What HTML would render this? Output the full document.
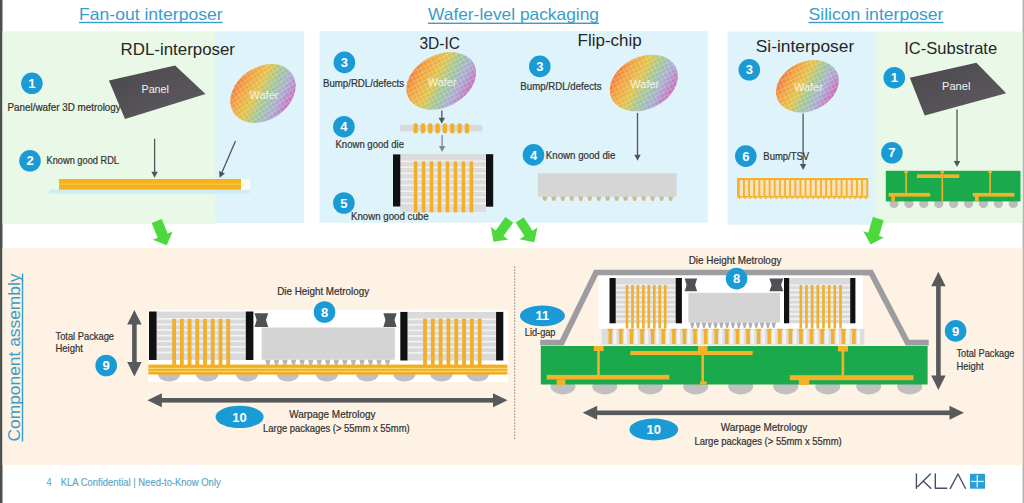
<!DOCTYPE html><html><head><meta charset="utf-8"><style>html,body{margin:0;padding:0;background:#fff;overflow:hidden}svg{display:block}text{font-family:"Liberation Sans",sans-serif}</style></head><body>
<svg width="1024" height="503" viewBox="0 0 1024 503">
<defs>
<linearGradient id="wgrad" x1="0" y1="0" x2="1" y2="0"><stop offset="0" stop-color="#ec6a3c"/><stop offset="0.22" stop-color="#f2a43a"/><stop offset="0.42" stop-color="#d8c25a"/><stop offset="0.6" stop-color="#9cc0a0"/><stop offset="0.78" stop-color="#b49ac8"/><stop offset="1" stop-color="#d05aa8"/></linearGradient>
<pattern id="wgrid" width="4.2" height="4.2" patternUnits="userSpaceOnUse"><path d="M0 0H4.2M0 0V4.2" stroke="#ffffff" stroke-width="1.1"/></pattern>
<linearGradient id="pgrad" x1="0" y1="0" x2="1" y2="1"><stop offset="0" stop-color="#4a484c"/><stop offset="1" stop-color="#5e5c60"/></linearGradient>
</defs>
<rect x="0.00" y="0.00" width="1024.00" height="503.00" fill="#ffffff"/>
<rect x="0.00" y="0.00" width="2.50" height="503.00" fill="#4d524d"/>
<rect x="1022.50" y="0.00" width="1.50" height="503.00" fill="#b4b4b4"/>
<rect x="2.50" y="31.30" width="212.50" height="192.90" fill="#e9f8e7"/>
<rect x="215.00" y="31.30" width="89.20" height="191.70" fill="#dff3fb"/>
<rect x="319.50" y="31.20" width="388.60" height="191.50" fill="#dff3fb"/>
<rect x="727.60" y="31.60" width="148.40" height="193.10" fill="#dff3fb"/>
<rect x="876.00" y="31.50" width="146.50" height="191.50" fill="#e9f8e7"/>
<rect x="2.50" y="248.00" width="1020.00" height="217.00" fill="#fdf2e3"/>
<text x="79.0" y="19.6" font-size="16.5" fill="#3a9cc9" text-anchor="start" font-weight="normal" textLength="143.6" lengthAdjust="spacingAndGlyphs">Fan-out interposer</text>
<rect x="79.00" y="21.80" width="143.60" height="1.40" fill="#3a9cc9"/>
<text x="428.0" y="20.2" font-size="16.5" fill="#3a9cc9" text-anchor="start" font-weight="normal" textLength="171.0" lengthAdjust="spacingAndGlyphs">Wafer-level packaging</text>
<rect x="428.00" y="22.60" width="171.00" height="1.40" fill="#3a9cc9"/>
<text x="808.5" y="19.6" font-size="16.5" fill="#3a9cc9" text-anchor="start" font-weight="normal" textLength="134.9" lengthAdjust="spacingAndGlyphs">Silicon interposer</text>
<rect x="808.50" y="21.80" width="134.90" height="1.40" fill="#3a9cc9"/>
<text x="120.6" y="55.2" font-size="16.5" fill="#262626" text-anchor="start" font-weight="normal" textLength="114.4" lengthAdjust="spacingAndGlyphs">RDL-interposer</text>
<text x="419.4" y="48.9" font-size="16.5" fill="#262626" text-anchor="start" font-weight="normal" textLength="40.6" lengthAdjust="spacingAndGlyphs">3D-IC</text>
<text x="577.6" y="46.3" font-size="16.5" fill="#262626" text-anchor="start" font-weight="normal" textLength="64.0" lengthAdjust="spacingAndGlyphs">Flip-chip</text>
<text x="755.8" y="51.9" font-size="16.5" fill="#262626" text-anchor="start" font-weight="normal" textLength="98.4" lengthAdjust="spacingAndGlyphs">Si-interposer</text>
<text x="904.2" y="54.3" font-size="16.5" fill="#262626" text-anchor="start" font-weight="normal" textLength="93.0" lengthAdjust="spacingAndGlyphs">IC-Substrate</text>
<circle cx="31.9" cy="83.3" r="10.8" fill="#1b9bd6"/>
<text x="31.9" y="87.9" font-size="13" fill="#fff" text-anchor="middle" font-weight="bold">1</text>
<text x="7.5" y="110.5" font-size="10.3" fill="#333333" text-anchor="start" font-weight="normal" textLength="113.2" lengthAdjust="spacingAndGlyphs" stroke="#333333" stroke-width="0.22">Panel/wafer 3D metrology</text>
<polygon points="108.9,80.6 175.1,65.4 205.5,94 125,119" fill="url(#pgrad)"/>
<text x="141.5" y="93.0" font-size="11" fill="#f2f2f2" text-anchor="start" font-weight="normal" textLength="27.4" lengthAdjust="spacingAndGlyphs">Panel</text>
<linearGradient id="wg1" gradientUnits="userSpaceOnUse" x1="-15.70" y1="-29.53" x2="15.70" y2="29.53"><stop offset="0" stop-color="#ee6a3a"/><stop offset="0.2" stop-color="#f3a03c"/><stop offset="0.4" stop-color="#e2c24c"/><stop offset="0.58" stop-color="#9fc79a"/><stop offset="0.75" stop-color="#a9acd2"/><stop offset="1" stop-color="#d556ad"/></linearGradient>
<g transform="translate(263,93.5) rotate(-34)">
<ellipse cx="0" cy="0" rx="35.2" ry="26.4" fill="url(#wg1)"/>
<ellipse cx="0" cy="0" rx="35.2" ry="26.4" fill="url(#wgrid)" opacity="0.35"/>
</g>
<text x="264.0" y="98.5" font-size="11" fill="#ffffff" text-anchor="middle" font-weight="normal" opacity="0.8">Wafer</text>
<circle cx="30" cy="160.8" r="10.8" fill="#1b9bd6"/>
<text x="30" y="165.4" font-size="13" fill="#fff" text-anchor="middle" font-weight="bold">2</text>
<text x="46.5" y="163.8" font-size="10.3" fill="#333333" text-anchor="start" font-weight="normal" textLength="72.5" lengthAdjust="spacingAndGlyphs" stroke="#333333" stroke-width="0.22">Known good RDL</text>
<line x1="154.6" y1="138.8" x2="154.6" y2="172.8" stroke="#505559" stroke-width="1.3"/>
<polygon points="151.4,171.8 157.79999999999998,171.8 154.6,177.8" fill="#505559"/>
<line x1="235.5" y1="141" x2="221.58" y2="173.21" stroke="#505559" stroke-width="1.3"/>
<polygon points="219.04,171.02 224.92,173.56 219.6,177.8" fill="#505559"/>
<rect x="49.00" y="189.70" width="201.00" height="4.00" fill="#cdeef6"/>
<rect x="59.00" y="179.00" width="182.00" height="10.70" fill="#f5b21b"/>
<rect x="59.00" y="183.60" width="182.00" height="1.20" fill="#f9c84a"/>
<rect x="241.00" y="179.00" width="9.00" height="10.70" fill="#fbfbf0"/>
<circle cx="344.4" cy="62.4" r="10.8" fill="#1b9bd6"/>
<text x="344.4" y="67.0" font-size="13" fill="#fff" text-anchor="middle" font-weight="bold">3</text>
<text x="323.0" y="87.3" font-size="10.3" fill="#333333" text-anchor="start" font-weight="normal" textLength="81.0" lengthAdjust="spacingAndGlyphs" stroke="#333333" stroke-width="0.22">Bump/RDL/defects</text>
<linearGradient id="wg2" gradientUnits="userSpaceOnUse" x1="-19.86" y1="-28.89" x2="19.86" y2="28.89"><stop offset="0" stop-color="#ee6a3a"/><stop offset="0.2" stop-color="#f3a03c"/><stop offset="0.4" stop-color="#e2c24c"/><stop offset="0.58" stop-color="#9fc79a"/><stop offset="0.75" stop-color="#a9acd2"/><stop offset="1" stop-color="#d556ad"/></linearGradient>
<g transform="translate(441.2,80.9) rotate(-27.5)">
<ellipse cx="0" cy="0" rx="36.9" ry="26.2" fill="url(#wg2)"/>
<ellipse cx="0" cy="0" rx="36.9" ry="26.2" fill="url(#wgrid)" opacity="0.35"/>
</g>
<text x="442.2" y="85.9" font-size="11" fill="#ffffff" text-anchor="middle" font-weight="normal" opacity="0.8">Wafer</text>
<line x1="441.8" y1="110.5" x2="441.8" y2="118.8" stroke="#505559" stroke-width="1.3"/>
<polygon points="438.6,117.8 445.0,117.8 441.8,123.8" fill="#505559"/>
<circle cx="343.9" cy="126.7" r="10.8" fill="#1b9bd6"/>
<text x="343.9" y="131.3" font-size="13" fill="#fff" text-anchor="middle" font-weight="bold">4</text>
<text x="335.5" y="147.7" font-size="10.3" fill="#333333" text-anchor="start" font-weight="normal" textLength="68.5" lengthAdjust="spacingAndGlyphs" stroke="#333333" stroke-width="0.22">Known good die</text>
<rect x="400.00" y="124.80" width="82.40" height="6.60" fill="#d9d9d9"/>
<rect x="413.40" y="123.3" width="4.4" height="10.3" rx="2" fill="#f2b02a"/>
<rect x="420.73" y="123.3" width="4.4" height="10.3" rx="2" fill="#f2b02a"/>
<rect x="428.06" y="123.3" width="4.4" height="10.3" rx="2" fill="#f2b02a"/>
<rect x="435.39" y="123.3" width="4.4" height="10.3" rx="2" fill="#f2b02a"/>
<rect x="442.72" y="123.3" width="4.4" height="10.3" rx="2" fill="#f2b02a"/>
<rect x="450.05" y="123.3" width="4.4" height="10.3" rx="2" fill="#f2b02a"/>
<rect x="457.38" y="123.3" width="4.4" height="10.3" rx="2" fill="#f2b02a"/>
<rect x="464.71" y="123.3" width="4.4" height="10.3" rx="2" fill="#f2b02a"/>
<line x1="442.1" y1="135" x2="442.1" y2="147.1" stroke="#7e8a94" stroke-width="1.3"/>
<polygon points="438.90000000000003,146.1 445.3,146.1 442.1,152.1" fill="#7e8a94"/>
<rect x="400.00" y="154.00" width="86.00" height="58.00" fill="#dcdcdc"/>
<rect x="400.00" y="160.50" width="86.00" height="1.60" fill="#f2f2f2"/>
<rect x="400.00" y="166.50" width="86.00" height="1.60" fill="#f2f2f2"/>
<rect x="400.00" y="172.50" width="86.00" height="1.60" fill="#f2f2f2"/>
<rect x="400.00" y="178.50" width="86.00" height="1.60" fill="#f2f2f2"/>
<rect x="400.00" y="184.50" width="86.00" height="1.60" fill="#f2f2f2"/>
<rect x="400.00" y="190.50" width="86.00" height="1.60" fill="#f2f2f2"/>
<rect x="400.00" y="196.50" width="86.00" height="1.60" fill="#f2f2f2"/>
<rect x="400.00" y="202.50" width="86.00" height="1.60" fill="#f2f2f2"/>
<rect x="413.80" y="161.40" width="3.60" height="51.00" fill="#f2b02a"/>
<rect x="421.77" y="161.40" width="3.60" height="51.00" fill="#f2b02a"/>
<rect x="429.74" y="161.40" width="3.60" height="51.00" fill="#f2b02a"/>
<rect x="437.71" y="161.40" width="3.60" height="51.00" fill="#f2b02a"/>
<rect x="445.68" y="161.40" width="3.60" height="51.00" fill="#f2b02a"/>
<rect x="453.65" y="161.40" width="3.60" height="51.00" fill="#f2b02a"/>
<rect x="461.62" y="161.40" width="3.60" height="51.00" fill="#f2b02a"/>
<rect x="469.59" y="161.40" width="3.60" height="51.00" fill="#f2b02a"/>
<rect x="393.00" y="154.40" width="7.30" height="52.10" fill="#111111"/>
<rect x="486.00" y="154.20" width="7.20" height="52.50" fill="#111111"/>
<circle cx="343.9" cy="203" r="10.8" fill="#1b9bd6"/>
<text x="343.9" y="207.6" font-size="13" fill="#fff" text-anchor="middle" font-weight="bold">5</text>
<text x="351.0" y="219.8" font-size="10.3" fill="#333333" text-anchor="start" font-weight="normal" textLength="77.6" lengthAdjust="spacingAndGlyphs" stroke="#333333" stroke-width="0.22">Known good cube</text>
<circle cx="539.8" cy="66.4" r="10.8" fill="#1b9bd6"/>
<text x="539.8" y="71.0" font-size="13" fill="#fff" text-anchor="middle" font-weight="bold">3</text>
<text x="520.3" y="90.2" font-size="10.3" fill="#333333" text-anchor="start" font-weight="normal" textLength="81.2" lengthAdjust="spacingAndGlyphs" stroke="#333333" stroke-width="0.22">Bump/RDL/defects</text>
<linearGradient id="wg3" gradientUnits="userSpaceOnUse" x1="-19.93" y1="-27.44" x2="19.93" y2="27.44"><stop offset="0" stop-color="#ee6a3a"/><stop offset="0.2" stop-color="#f3a03c"/><stop offset="0.4" stop-color="#e2c24c"/><stop offset="0.58" stop-color="#9fc79a"/><stop offset="0.75" stop-color="#a9acd2"/><stop offset="1" stop-color="#d556ad"/></linearGradient>
<g transform="translate(643.8,83) rotate(-26)">
<ellipse cx="0" cy="0" rx="35.7" ry="26.1" fill="url(#wg3)"/>
<ellipse cx="0" cy="0" rx="35.7" ry="26.1" fill="url(#wgrid)" opacity="0.35"/>
</g>
<text x="644.8" y="88.0" font-size="11" fill="#ffffff" text-anchor="middle" font-weight="normal" opacity="0.8">Wafer</text>
<line x1="637.5" y1="113" x2="637.5" y2="155.8" stroke="#505559" stroke-width="1.3"/>
<polygon points="634.3,154.8 640.7,154.8 637.5,160.8" fill="#505559"/>
<circle cx="533.5" cy="154.9" r="10.8" fill="#1b9bd6"/>
<text x="533.5" y="159.5" font-size="13" fill="#fff" text-anchor="middle" font-weight="bold">4</text>
<text x="545.8" y="159.4" font-size="10.3" fill="#333333" text-anchor="start" font-weight="normal" textLength="69.6" lengthAdjust="spacingAndGlyphs" stroke="#333333" stroke-width="0.22">Known good die</text>
<rect x="537.80" y="173.30" width="138.80" height="23.30" fill="#d6d6d6"/>
<path d="M542.20,196.6 h5.2 l-1,3.4 a1.8,1.8 0 0 1 -3.2,0 z" fill="#cdbb8e"/>
<path d="M551.19,196.6 h5.2 l-1,3.4 a1.8,1.8 0 0 1 -3.2,0 z" fill="#cdbb8e"/>
<path d="M560.17,196.6 h5.2 l-1,3.4 a1.8,1.8 0 0 1 -3.2,0 z" fill="#cdbb8e"/>
<path d="M569.16,196.6 h5.2 l-1,3.4 a1.8,1.8 0 0 1 -3.2,0 z" fill="#cdbb8e"/>
<path d="M578.14,196.6 h5.2 l-1,3.4 a1.8,1.8 0 0 1 -3.2,0 z" fill="#cdbb8e"/>
<path d="M587.13,196.6 h5.2 l-1,3.4 a1.8,1.8 0 0 1 -3.2,0 z" fill="#cdbb8e"/>
<path d="M596.11,196.6 h5.2 l-1,3.4 a1.8,1.8 0 0 1 -3.2,0 z" fill="#cdbb8e"/>
<path d="M605.10,196.6 h5.2 l-1,3.4 a1.8,1.8 0 0 1 -3.2,0 z" fill="#cdbb8e"/>
<path d="M614.09,196.6 h5.2 l-1,3.4 a1.8,1.8 0 0 1 -3.2,0 z" fill="#cdbb8e"/>
<path d="M623.07,196.6 h5.2 l-1,3.4 a1.8,1.8 0 0 1 -3.2,0 z" fill="#cdbb8e"/>
<path d="M632.06,196.6 h5.2 l-1,3.4 a1.8,1.8 0 0 1 -3.2,0 z" fill="#cdbb8e"/>
<path d="M641.04,196.6 h5.2 l-1,3.4 a1.8,1.8 0 0 1 -3.2,0 z" fill="#cdbb8e"/>
<path d="M650.03,196.6 h5.2 l-1,3.4 a1.8,1.8 0 0 1 -3.2,0 z" fill="#cdbb8e"/>
<path d="M659.01,196.6 h5.2 l-1,3.4 a1.8,1.8 0 0 1 -3.2,0 z" fill="#cdbb8e"/>
<path d="M668.00,196.6 h5.2 l-1,3.4 a1.8,1.8 0 0 1 -3.2,0 z" fill="#cdbb8e"/>
<circle cx="749.3" cy="69.8" r="10.8" fill="#1b9bd6"/>
<text x="749.3" y="74.4" font-size="13" fill="#fff" text-anchor="middle" font-weight="bold">3</text>
<linearGradient id="wg4" gradientUnits="userSpaceOnUse" x1="-18.70" y1="-24.81" x2="18.70" y2="24.81"><stop offset="0" stop-color="#ee6a3a"/><stop offset="0.2" stop-color="#f3a03c"/><stop offset="0.4" stop-color="#e2c24c"/><stop offset="0.58" stop-color="#9fc79a"/><stop offset="0.75" stop-color="#a9acd2"/><stop offset="1" stop-color="#d556ad"/></linearGradient>
<g transform="translate(807.4,86.3) rotate(-25)">
<ellipse cx="0" cy="0" rx="32.7" ry="24.6" fill="url(#wg4)"/>
<ellipse cx="0" cy="0" rx="32.7" ry="24.6" fill="url(#wgrid)" opacity="0.35"/>
</g>
<text x="808.4" y="91.3" font-size="11" fill="#ffffff" text-anchor="middle" font-weight="normal" opacity="0.8">Wafer</text>
<line x1="803.1" y1="113.5" x2="803.1" y2="164.9" stroke="#505559" stroke-width="1.3"/>
<polygon points="799.9,163.9 806.3000000000001,163.9 803.1,169.9" fill="#505559"/>
<circle cx="745.8" cy="156.1" r="10.8" fill="#1b9bd6"/>
<text x="745.8" y="160.7" font-size="13" fill="#fff" text-anchor="middle" font-weight="bold">6</text>
<text x="763.3" y="159.8" font-size="10.3" fill="#333333" text-anchor="start" font-weight="normal" textLength="45.9" lengthAdjust="spacingAndGlyphs" stroke="#333333" stroke-width="0.22">Bump/TSV</text>
<rect x="737.00" y="178.00" width="131.30" height="19.50" fill="#f3b12c"/>
<rect x="739.70" y="180.00" width="3.30" height="16.00" fill="#f6e2bb"/>
<rect x="744.84" y="180.00" width="3.30" height="16.00" fill="#f6e2bb"/>
<rect x="749.97" y="180.00" width="3.30" height="16.00" fill="#f6e2bb"/>
<rect x="755.11" y="180.00" width="3.30" height="16.00" fill="#f6e2bb"/>
<rect x="760.25" y="180.00" width="3.30" height="16.00" fill="#f6e2bb"/>
<rect x="765.39" y="180.00" width="3.30" height="16.00" fill="#f6e2bb"/>
<rect x="770.52" y="180.00" width="3.30" height="16.00" fill="#f6e2bb"/>
<rect x="775.66" y="180.00" width="3.30" height="16.00" fill="#f6e2bb"/>
<rect x="780.80" y="180.00" width="3.30" height="16.00" fill="#f6e2bb"/>
<rect x="785.94" y="180.00" width="3.30" height="16.00" fill="#f6e2bb"/>
<rect x="791.07" y="180.00" width="3.30" height="16.00" fill="#f6e2bb"/>
<rect x="796.21" y="180.00" width="3.30" height="16.00" fill="#f6e2bb"/>
<rect x="801.35" y="180.00" width="3.30" height="16.00" fill="#f6e2bb"/>
<rect x="806.49" y="180.00" width="3.30" height="16.00" fill="#f6e2bb"/>
<rect x="811.62" y="180.00" width="3.30" height="16.00" fill="#f6e2bb"/>
<rect x="816.76" y="180.00" width="3.30" height="16.00" fill="#f6e2bb"/>
<rect x="821.90" y="180.00" width="3.30" height="16.00" fill="#f6e2bb"/>
<rect x="827.04" y="180.00" width="3.30" height="16.00" fill="#f6e2bb"/>
<rect x="832.17" y="180.00" width="3.30" height="16.00" fill="#f6e2bb"/>
<rect x="837.31" y="180.00" width="3.30" height="16.00" fill="#f6e2bb"/>
<rect x="842.45" y="180.00" width="3.30" height="16.00" fill="#f6e2bb"/>
<rect x="847.59" y="180.00" width="3.30" height="16.00" fill="#f6e2bb"/>
<rect x="852.72" y="180.00" width="3.30" height="16.00" fill="#f6e2bb"/>
<rect x="857.86" y="180.00" width="3.30" height="16.00" fill="#f6e2bb"/>
<rect x="863.00" y="180.00" width="3.30" height="16.00" fill="#f6e2bb"/>
<path d="M737.60,197.5 h4 l-2,1.8 z" fill="#f3b12c"/>
<path d="M742.85,197.5 h4 l-2,1.8 z" fill="#f3b12c"/>
<path d="M748.11,197.5 h4 l-2,1.8 z" fill="#f3b12c"/>
<path d="M753.36,197.5 h4 l-2,1.8 z" fill="#f3b12c"/>
<path d="M758.62,197.5 h4 l-2,1.8 z" fill="#f3b12c"/>
<path d="M763.87,197.5 h4 l-2,1.8 z" fill="#f3b12c"/>
<path d="M769.12,197.5 h4 l-2,1.8 z" fill="#f3b12c"/>
<path d="M774.38,197.5 h4 l-2,1.8 z" fill="#f3b12c"/>
<path d="M779.63,197.5 h4 l-2,1.8 z" fill="#f3b12c"/>
<path d="M784.89,197.5 h4 l-2,1.8 z" fill="#f3b12c"/>
<path d="M790.14,197.5 h4 l-2,1.8 z" fill="#f3b12c"/>
<path d="M795.40,197.5 h4 l-2,1.8 z" fill="#f3b12c"/>
<path d="M800.65,197.5 h4 l-2,1.8 z" fill="#f3b12c"/>
<path d="M805.90,197.5 h4 l-2,1.8 z" fill="#f3b12c"/>
<path d="M811.16,197.5 h4 l-2,1.8 z" fill="#f3b12c"/>
<path d="M816.41,197.5 h4 l-2,1.8 z" fill="#f3b12c"/>
<path d="M821.67,197.5 h4 l-2,1.8 z" fill="#f3b12c"/>
<path d="M826.92,197.5 h4 l-2,1.8 z" fill="#f3b12c"/>
<path d="M832.18,197.5 h4 l-2,1.8 z" fill="#f3b12c"/>
<path d="M837.43,197.5 h4 l-2,1.8 z" fill="#f3b12c"/>
<path d="M842.68,197.5 h4 l-2,1.8 z" fill="#f3b12c"/>
<path d="M847.94,197.5 h4 l-2,1.8 z" fill="#f3b12c"/>
<path d="M853.19,197.5 h4 l-2,1.8 z" fill="#f3b12c"/>
<path d="M858.45,197.5 h4 l-2,1.8 z" fill="#f3b12c"/>
<path d="M863.70,197.5 h4 l-2,1.8 z" fill="#f3b12c"/>
<circle cx="894.3" cy="77.7" r="10.8" fill="#1b9bd6"/>
<text x="894.3" y="82.3" font-size="13" fill="#fff" text-anchor="middle" font-weight="bold">1</text>
<polygon points="909.8,77.7 976.4,62.8 1006.2,93.2 924.7,115.5" fill="url(#pgrad)"/>
<text x="942.0" y="90.0" font-size="11" fill="#f2f2f2" text-anchor="start" font-weight="normal" textLength="28.4" lengthAdjust="spacingAndGlyphs">Panel</text>
<line x1="957" y1="109.5" x2="957" y2="162" stroke="#505559" stroke-width="1.3"/>
<polygon points="953.8,161 960.2,161 957,167" fill="#505559"/>
<circle cx="891.9" cy="152.8" r="10.8" fill="#1b9bd6"/>
<text x="891.9" y="157.4" font-size="13" fill="#fff" text-anchor="middle" font-weight="bold">7</text>
<circle cx="894.00" cy="203.5" r="4.6" fill="#bdbdbd"/>
<circle cx="908.91" cy="203.5" r="4.6" fill="#bdbdbd"/>
<circle cx="923.83" cy="203.5" r="4.6" fill="#bdbdbd"/>
<circle cx="938.74" cy="203.5" r="4.6" fill="#bdbdbd"/>
<circle cx="953.65" cy="203.5" r="4.6" fill="#bdbdbd"/>
<circle cx="968.56" cy="203.5" r="4.6" fill="#bdbdbd"/>
<circle cx="983.47" cy="203.5" r="4.6" fill="#bdbdbd"/>
<circle cx="998.39" cy="203.5" r="4.6" fill="#bdbdbd"/>
<circle cx="1013.30" cy="203.5" r="4.6" fill="#bdbdbd"/>
<rect x="885.80" y="170.80" width="134.70" height="30.60" fill="#1aa94b"/>
<rect x="917.00" y="174.30" width="42.30" height="3.70" fill="#f2b22a"/>
<rect x="888.60" y="192.90" width="41.60" height="3.70" fill="#f2b22a"/>
<rect x="972.80" y="192.90" width="41.60" height="3.70" fill="#f2b22a"/>
<rect x="905.30" y="170.80" width="1.60" height="22.50" fill="#f2b22a"/>
<rect x="941.50" y="170.80" width="1.60" height="30.60" fill="#f2b22a"/>
<rect x="989.30" y="170.80" width="1.60" height="22.50" fill="#f2b22a"/>
<rect x="891.30" y="196.00" width="3.60" height="5.40" fill="#f2b22a"/>
<rect x="975.00" y="196.00" width="3.60" height="5.40" fill="#f2b22a"/>
<rect x="904.30" y="170.80" width="3.60" height="2.20" fill="#f2b22a"/>
<rect x="940.50" y="170.80" width="3.60" height="2.20" fill="#f2b22a"/>
<rect x="988.30" y="170.80" width="3.60" height="2.20" fill="#f2b22a"/>
<polygon points="151.69,223.04 157.71,237.65 152.76,239.69 166.70,245.30 172.64,231.50 167.69,233.53 161.67,218.93" fill="#4dd83c"/>
<polygon points="505.43,217.06 495.73,230.41 490.87,226.89 493.40,241.70 508.27,239.52 503.41,236.00 513.11,222.65" fill="#4dd83c"/>
<polygon points="515.67,222.39 524.50,235.98 519.47,239.25 534.20,242.20 537.50,227.54 532.46,230.81 523.64,217.22" fill="#4dd83c"/>
<polygon points="872.94,217.12 868.25,232.73 863.32,231.25 870.60,244.40 883.91,237.43 878.98,235.95 883.67,220.34" fill="#4dd83c"/>
<g transform="translate(20.2,441.5) rotate(-90)">
<text x="0.0" y="0.0" font-size="17" fill="#3a9cc9" text-anchor="start" font-weight="normal" textLength="168.0" lengthAdjust="spacingAndGlyphs">Component assembly</text>
<rect x="0.00" y="1.60" width="168.00" height="1.40" fill="#3a9cc9"/>
</g>
<line x1="514.7" y1="266.4" x2="514.7" y2="440.4" stroke="#8e8e88" stroke-width="1" stroke-dasharray="1.6,1.4"/>
<rect x="148.40" y="310.00" width="359.60" height="71.80" fill="#ffffff"/>
<rect x="156.60" y="311.50" width="89.20" height="48.50" fill="#dadada"/>
<rect x="156.60" y="318.00" width="89.20" height="1.70" fill="#f0f3f5"/>
<rect x="156.60" y="323.60" width="89.20" height="1.70" fill="#f0f3f5"/>
<rect x="156.60" y="329.20" width="89.20" height="1.70" fill="#f0f3f5"/>
<rect x="156.60" y="334.80" width="89.20" height="1.70" fill="#f0f3f5"/>
<rect x="156.60" y="340.40" width="89.20" height="1.70" fill="#f0f3f5"/>
<rect x="156.60" y="346.00" width="89.20" height="1.70" fill="#f0f3f5"/>
<rect x="156.60" y="351.60" width="89.20" height="1.70" fill="#f0f3f5"/>
<rect x="172.20" y="318.80" width="3.80" height="46.60" fill="#f2b02a"/>
<rect x="179.93" y="318.80" width="3.80" height="46.60" fill="#f2b02a"/>
<rect x="187.66" y="318.80" width="3.80" height="46.60" fill="#f2b02a"/>
<rect x="195.39" y="318.80" width="3.80" height="46.60" fill="#f2b02a"/>
<rect x="203.11" y="318.80" width="3.80" height="46.60" fill="#f2b02a"/>
<rect x="210.84" y="318.80" width="3.80" height="46.60" fill="#f2b02a"/>
<rect x="218.57" y="318.80" width="3.80" height="46.60" fill="#f2b02a"/>
<rect x="226.30" y="318.80" width="3.80" height="46.60" fill="#f2b02a"/>
<rect x="149.00" y="311.50" width="7.60" height="48.50" fill="#111111"/>
<rect x="245.80" y="311.50" width="7.60" height="48.50" fill="#111111"/>
<rect x="407.50" y="311.90" width="88.60" height="48.60" fill="#dadada"/>
<rect x="407.50" y="318.40" width="88.60" height="1.70" fill="#f0f3f5"/>
<rect x="407.50" y="324.00" width="88.60" height="1.70" fill="#f0f3f5"/>
<rect x="407.50" y="329.60" width="88.60" height="1.70" fill="#f0f3f5"/>
<rect x="407.50" y="335.20" width="88.60" height="1.70" fill="#f0f3f5"/>
<rect x="407.50" y="340.80" width="88.60" height="1.70" fill="#f0f3f5"/>
<rect x="407.50" y="346.40" width="88.60" height="1.70" fill="#f0f3f5"/>
<rect x="407.50" y="352.00" width="88.60" height="1.70" fill="#f0f3f5"/>
<rect x="423.10" y="318.60" width="3.80" height="48.00" fill="#f2b02a"/>
<rect x="430.91" y="318.60" width="3.80" height="48.00" fill="#f2b02a"/>
<rect x="438.73" y="318.60" width="3.80" height="48.00" fill="#f2b02a"/>
<rect x="446.54" y="318.60" width="3.80" height="48.00" fill="#f2b02a"/>
<rect x="454.36" y="318.60" width="3.80" height="48.00" fill="#f2b02a"/>
<rect x="462.17" y="318.60" width="3.80" height="48.00" fill="#f2b02a"/>
<rect x="469.99" y="318.60" width="3.80" height="48.00" fill="#f2b02a"/>
<rect x="477.80" y="318.60" width="3.80" height="48.00" fill="#f2b02a"/>
<rect x="400.30" y="311.90" width="7.20" height="48.60" fill="#111111"/>
<rect x="496.10" y="311.90" width="7.20" height="48.60" fill="#111111"/>
<rect x="261.70" y="327.50" width="133.20" height="32.20" fill="#d4d4d4"/>
<path d="M265.20,359.7 h5.4 l-1.2,5 h-3 z" fill="#b8b8b4"/>
<path d="M273.75,359.7 h5.4 l-1.2,5 h-3 z" fill="#b8b8b4"/>
<path d="M282.30,359.7 h5.4 l-1.2,5 h-3 z" fill="#b8b8b4"/>
<path d="M290.85,359.7 h5.4 l-1.2,5 h-3 z" fill="#b8b8b4"/>
<path d="M299.40,359.7 h5.4 l-1.2,5 h-3 z" fill="#b8b8b4"/>
<path d="M307.95,359.7 h5.4 l-1.2,5 h-3 z" fill="#b8b8b4"/>
<path d="M316.50,359.7 h5.4 l-1.2,5 h-3 z" fill="#b8b8b4"/>
<path d="M325.05,359.7 h5.4 l-1.2,5 h-3 z" fill="#b8b8b4"/>
<path d="M333.60,359.7 h5.4 l-1.2,5 h-3 z" fill="#b8b8b4"/>
<path d="M342.15,359.7 h5.4 l-1.2,5 h-3 z" fill="#b8b8b4"/>
<path d="M350.70,359.7 h5.4 l-1.2,5 h-3 z" fill="#b8b8b4"/>
<path d="M359.25,359.7 h5.4 l-1.2,5 h-3 z" fill="#b8b8b4"/>
<path d="M367.80,359.7 h5.4 l-1.2,5 h-3 z" fill="#b8b8b4"/>
<path d="M376.35,359.7 h5.4 l-1.2,5 h-3 z" fill="#b8b8b4"/>
<path d="M384.90,359.7 h5.4 l-1.2,5 h-3 z" fill="#b8b8b4"/>
<polygon points="254.5,313.2 268.2,313.2 266.01,320.10 268.2,327 254.5,327 256.69,320.10" fill="#4f5155"/>
<polygon points="383.4,313.2 396.6,313.2 394.49,320.10 396.6,327 383.4,327 385.51,320.10" fill="#4f5155"/>
<ellipse cx="169.1" cy="374.3" rx="11.2" ry="7.2" fill="#c0c0c0"/>
<ellipse cx="207.2" cy="374.3" rx="11.2" ry="7.2" fill="#c0c0c0"/>
<ellipse cx="247.0" cy="374.3" rx="11.2" ry="7.2" fill="#c0c0c0"/>
<ellipse cx="287.9" cy="374.3" rx="11.2" ry="7.2" fill="#c0c0c0"/>
<ellipse cx="327.0" cy="374.3" rx="11.2" ry="7.2" fill="#c0c0c0"/>
<ellipse cx="367.3" cy="374.3" rx="11.2" ry="7.2" fill="#c0c0c0"/>
<ellipse cx="404.4" cy="374.3" rx="11.2" ry="7.2" fill="#c0c0c0"/>
<ellipse cx="441.5" cy="374.3" rx="11.2" ry="7.2" fill="#c0c0c0"/>
<ellipse cx="477.7" cy="374.3" rx="11.2" ry="7.2" fill="#c0c0c0"/>
<rect x="148.40" y="364.60" width="359.00" height="10.00" fill="#f1ae22"/>
<rect x="148.40" y="367.80" width="359.00" height="1.20" fill="#fbd66a"/>
<rect x="148.40" y="370.80" width="359.00" height="1.20" fill="#fbd66a"/>
<circle cx="324.5" cy="312" r="10.8" fill="#1b9bd6"/>
<text x="324.5" y="316.6" font-size="13" fill="#fff" text-anchor="middle" font-weight="bold">8</text>
<text x="277.2" y="295.3" font-size="10.3" fill="#333333" text-anchor="start" font-weight="normal" textLength="91.9" lengthAdjust="spacingAndGlyphs" stroke="#333333" stroke-width="0.22">Die Height Metrology</text>
<rect x="132.1" y="323.4" width="4.6" height="39.60000000000002" fill="#58595b"/>
<polygon points="134.4,309.9 127.2,324.4 141.6,324.4" fill="#58595b"/>
<polygon points="134.4,376.5 127.2,362.0 141.6,362.0" fill="#58595b"/>
<text x="55.5" y="339.7" font-size="10.3" fill="#333333" text-anchor="start" font-weight="normal" textLength="58.5" lengthAdjust="spacingAndGlyphs" stroke="#333333" stroke-width="0.22">Total Package</text>
<text x="55.5" y="351.6" font-size="10.3" fill="#333333" text-anchor="start" font-weight="normal" textLength="27.3" lengthAdjust="spacingAndGlyphs" stroke="#333333" stroke-width="0.22">Height</text>
<circle cx="106.2" cy="365.5" r="10.8" fill="#1b9bd6"/>
<text x="106.2" y="370.1" font-size="13" fill="#fff" text-anchor="middle" font-weight="bold">9</text>
<rect x="160.9" y="398.0" width="333.1" height="4.6" fill="#58595b"/>
<polygon points="147.4,400.3 161.9,393.3 161.9,407.3" fill="#58595b"/>
<polygon points="507.5,400.3 493.0,393.3 493.0,407.3" fill="#58595b"/>
<ellipse cx="239.6" cy="416.9" rx="24" ry="11.2" fill="#1b9bd6"/>
<text x="239.6" y="421.5" font-size="13" fill="#fff" text-anchor="middle" font-weight="bold">10</text>
<text x="289.2" y="418.0" font-size="10.3" fill="#333333" text-anchor="start" font-weight="normal" textLength="86.3" lengthAdjust="spacingAndGlyphs" stroke="#333333" stroke-width="0.22">Warpage Metrology</text>
<text x="263.0" y="432.0" font-size="10.3" fill="#333333" text-anchor="start" font-weight="normal" textLength="146.7" lengthAdjust="spacingAndGlyphs" stroke="#333333" stroke-width="0.22">Large packages (&gt; 55mm x 55mm)</text>
<ellipse cx="563.0" cy="386.2" rx="12.4" ry="8.3" fill="#c0c0c0"/>
<ellipse cx="604.8" cy="386.2" rx="12.4" ry="8.3" fill="#c0c0c0"/>
<ellipse cx="650.4" cy="386.2" rx="12.4" ry="8.3" fill="#c0c0c0"/>
<ellipse cx="695.7" cy="386.2" rx="12.4" ry="8.3" fill="#c0c0c0"/>
<ellipse cx="740.7" cy="386.2" rx="12.4" ry="8.3" fill="#c0c0c0"/>
<ellipse cx="785.7" cy="386.2" rx="12.4" ry="8.3" fill="#c0c0c0"/>
<ellipse cx="827.7" cy="386.2" rx="12.4" ry="8.3" fill="#c0c0c0"/>
<ellipse cx="868.7" cy="386.2" rx="12.4" ry="8.3" fill="#c0c0c0"/>
<ellipse cx="909.7" cy="386.2" rx="12.4" ry="8.3" fill="#c0c0c0"/>
<path d="M540.2,342.6 H561.8 L596,272.6 H871 L907.5,342.6 H928.7" fill="none" stroke="#9d9da1" stroke-width="5.8" stroke-linejoin="miter"/>
<polygon points="598.5,275.5 863,275.5 863,329 598.5,329" fill="#ffffff"/>
<rect x="615.70" y="278.00" width="60.00" height="45.30" fill="#dadada"/>
<rect x="615.70" y="284.50" width="60.00" height="1.70" fill="#f0f3f5"/>
<rect x="615.70" y="289.30" width="60.00" height="1.70" fill="#f0f3f5"/>
<rect x="615.70" y="294.10" width="60.00" height="1.70" fill="#f0f3f5"/>
<rect x="615.70" y="298.90" width="60.00" height="1.70" fill="#f0f3f5"/>
<rect x="615.70" y="303.70" width="60.00" height="1.70" fill="#f0f3f5"/>
<rect x="615.70" y="308.50" width="60.00" height="1.70" fill="#f0f3f5"/>
<rect x="615.70" y="313.30" width="60.00" height="1.70" fill="#f0f3f5"/>
<rect x="615.70" y="318.10" width="60.00" height="1.70" fill="#f0f3f5"/>
<rect x="625.70" y="285.00" width="2.60" height="43.50" fill="#f2b02a"/>
<rect x="631.16" y="285.00" width="2.60" height="43.50" fill="#f2b02a"/>
<rect x="636.61" y="285.00" width="2.60" height="43.50" fill="#f2b02a"/>
<rect x="642.07" y="285.00" width="2.60" height="43.50" fill="#f2b02a"/>
<rect x="647.53" y="285.00" width="2.60" height="43.50" fill="#f2b02a"/>
<rect x="652.99" y="285.00" width="2.60" height="43.50" fill="#f2b02a"/>
<rect x="658.44" y="285.00" width="2.60" height="43.50" fill="#f2b02a"/>
<rect x="663.90" y="285.00" width="2.60" height="43.50" fill="#f2b02a"/>
<rect x="609.50" y="278.00" width="6.20" height="45.30" fill="#111111"/>
<rect x="675.70" y="278.00" width="6.20" height="45.30" fill="#111111"/>
<rect x="789.20" y="278.00" width="61.00" height="45.30" fill="#dadada"/>
<rect x="789.20" y="284.50" width="61.00" height="1.70" fill="#f0f3f5"/>
<rect x="789.20" y="289.30" width="61.00" height="1.70" fill="#f0f3f5"/>
<rect x="789.20" y="294.10" width="61.00" height="1.70" fill="#f0f3f5"/>
<rect x="789.20" y="298.90" width="61.00" height="1.70" fill="#f0f3f5"/>
<rect x="789.20" y="303.70" width="61.00" height="1.70" fill="#f0f3f5"/>
<rect x="789.20" y="308.50" width="61.00" height="1.70" fill="#f0f3f5"/>
<rect x="789.20" y="313.30" width="61.00" height="1.70" fill="#f0f3f5"/>
<rect x="789.20" y="318.10" width="61.00" height="1.70" fill="#f0f3f5"/>
<rect x="799.50" y="285.00" width="2.60" height="43.50" fill="#f2b02a"/>
<rect x="805.17" y="285.00" width="2.60" height="43.50" fill="#f2b02a"/>
<rect x="810.84" y="285.00" width="2.60" height="43.50" fill="#f2b02a"/>
<rect x="816.51" y="285.00" width="2.60" height="43.50" fill="#f2b02a"/>
<rect x="822.19" y="285.00" width="2.60" height="43.50" fill="#f2b02a"/>
<rect x="827.86" y="285.00" width="2.60" height="43.50" fill="#f2b02a"/>
<rect x="833.53" y="285.00" width="2.60" height="43.50" fill="#f2b02a"/>
<rect x="839.20" y="285.00" width="2.60" height="43.50" fill="#f2b02a"/>
<rect x="784.00" y="278.00" width="5.20" height="45.30" fill="#111111"/>
<rect x="850.20" y="278.00" width="5.20" height="45.30" fill="#111111"/>
<rect x="688.40" y="292.80" width="91.60" height="29.70" fill="#d4d4d4"/>
<path d="M690.00,322.5 h4.6 l-1.5,5.6 h-1.6 z" fill="#b0b0b0"/>
<path d="M695.81,322.5 h4.6 l-1.5,5.6 h-1.6 z" fill="#b0b0b0"/>
<path d="M701.63,322.5 h4.6 l-1.5,5.6 h-1.6 z" fill="#b0b0b0"/>
<path d="M707.44,322.5 h4.6 l-1.5,5.6 h-1.6 z" fill="#b0b0b0"/>
<path d="M713.26,322.5 h4.6 l-1.5,5.6 h-1.6 z" fill="#b0b0b0"/>
<path d="M719.07,322.5 h4.6 l-1.5,5.6 h-1.6 z" fill="#b0b0b0"/>
<path d="M724.89,322.5 h4.6 l-1.5,5.6 h-1.6 z" fill="#b0b0b0"/>
<path d="M730.70,322.5 h4.6 l-1.5,5.6 h-1.6 z" fill="#b0b0b0"/>
<path d="M736.51,322.5 h4.6 l-1.5,5.6 h-1.6 z" fill="#b0b0b0"/>
<path d="M742.33,322.5 h4.6 l-1.5,5.6 h-1.6 z" fill="#b0b0b0"/>
<path d="M748.14,322.5 h4.6 l-1.5,5.6 h-1.6 z" fill="#b0b0b0"/>
<path d="M753.96,322.5 h4.6 l-1.5,5.6 h-1.6 z" fill="#b0b0b0"/>
<path d="M759.77,322.5 h4.6 l-1.5,5.6 h-1.6 z" fill="#b0b0b0"/>
<path d="M765.59,322.5 h4.6 l-1.5,5.6 h-1.6 z" fill="#b0b0b0"/>
<path d="M771.40,322.5 h4.6 l-1.5,5.6 h-1.6 z" fill="#b0b0b0"/>
<polygon points="684.6,278.6 697.1,278.6 695.10,284.90 697.1,291.2 684.6,291.2 686.60,284.90" fill="#4f5155"/>
<polygon points="769.4,278.6 783.3,278.6 781.08,284.90 783.3,291.2 769.4,291.2 771.62,284.90" fill="#4f5155"/>
<rect x="601.60" y="328.80" width="262.80" height="15.90" fill="#dddddd"/>
<rect x="613.30" y="329.50" width="3.20" height="14.50" fill="#f3f3f3"/>
<rect x="608.55" y="329.50" width="3.50" height="14.50" fill="#f2b02a"/>
<rect x="607.80" y="328.80" width="5.00" height="2.00" fill="#f2b02a"/>
<rect x="623.89" y="329.50" width="3.20" height="14.50" fill="#f3f3f3"/>
<rect x="619.14" y="329.50" width="3.50" height="14.50" fill="#f2b02a"/>
<rect x="618.39" y="328.80" width="5.00" height="2.00" fill="#f2b02a"/>
<rect x="634.48" y="329.50" width="3.20" height="14.50" fill="#f3f3f3"/>
<rect x="629.73" y="329.50" width="3.50" height="14.50" fill="#f2b02a"/>
<rect x="628.98" y="328.80" width="5.00" height="2.00" fill="#f2b02a"/>
<rect x="645.07" y="329.50" width="3.20" height="14.50" fill="#f3f3f3"/>
<rect x="640.32" y="329.50" width="3.50" height="14.50" fill="#f2b02a"/>
<rect x="639.57" y="328.80" width="5.00" height="2.00" fill="#f2b02a"/>
<rect x="655.67" y="329.50" width="3.20" height="14.50" fill="#f3f3f3"/>
<rect x="650.92" y="329.50" width="3.50" height="14.50" fill="#f2b02a"/>
<rect x="650.17" y="328.80" width="5.00" height="2.00" fill="#f2b02a"/>
<rect x="666.26" y="329.50" width="3.20" height="14.50" fill="#f3f3f3"/>
<rect x="661.51" y="329.50" width="3.50" height="14.50" fill="#f2b02a"/>
<rect x="660.76" y="328.80" width="5.00" height="2.00" fill="#f2b02a"/>
<rect x="676.85" y="329.50" width="3.20" height="14.50" fill="#f3f3f3"/>
<rect x="672.10" y="329.50" width="3.50" height="14.50" fill="#f2b02a"/>
<rect x="671.35" y="328.80" width="5.00" height="2.00" fill="#f2b02a"/>
<rect x="687.44" y="329.50" width="3.20" height="14.50" fill="#f3f3f3"/>
<rect x="682.69" y="329.50" width="3.50" height="14.50" fill="#f2b02a"/>
<rect x="681.94" y="328.80" width="5.00" height="2.00" fill="#f2b02a"/>
<rect x="698.03" y="329.50" width="3.20" height="14.50" fill="#f3f3f3"/>
<rect x="693.28" y="329.50" width="3.50" height="14.50" fill="#f2b02a"/>
<rect x="692.53" y="328.80" width="5.00" height="2.00" fill="#f2b02a"/>
<rect x="708.62" y="329.50" width="3.20" height="14.50" fill="#f3f3f3"/>
<rect x="703.87" y="329.50" width="3.50" height="14.50" fill="#f2b02a"/>
<rect x="703.12" y="328.80" width="5.00" height="2.00" fill="#f2b02a"/>
<rect x="719.21" y="329.50" width="3.20" height="14.50" fill="#f3f3f3"/>
<rect x="714.46" y="329.50" width="3.50" height="14.50" fill="#f2b02a"/>
<rect x="713.71" y="328.80" width="5.00" height="2.00" fill="#f2b02a"/>
<rect x="729.80" y="329.50" width="3.20" height="14.50" fill="#f3f3f3"/>
<rect x="725.05" y="329.50" width="3.50" height="14.50" fill="#f2b02a"/>
<rect x="724.30" y="328.80" width="5.00" height="2.00" fill="#f2b02a"/>
<rect x="740.40" y="329.50" width="3.20" height="14.50" fill="#f3f3f3"/>
<rect x="735.65" y="329.50" width="3.50" height="14.50" fill="#f2b02a"/>
<rect x="734.90" y="328.80" width="5.00" height="2.00" fill="#f2b02a"/>
<rect x="750.99" y="329.50" width="3.20" height="14.50" fill="#f3f3f3"/>
<rect x="746.24" y="329.50" width="3.50" height="14.50" fill="#f2b02a"/>
<rect x="745.49" y="328.80" width="5.00" height="2.00" fill="#f2b02a"/>
<rect x="761.58" y="329.50" width="3.20" height="14.50" fill="#f3f3f3"/>
<rect x="756.83" y="329.50" width="3.50" height="14.50" fill="#f2b02a"/>
<rect x="756.08" y="328.80" width="5.00" height="2.00" fill="#f2b02a"/>
<rect x="772.17" y="329.50" width="3.20" height="14.50" fill="#f3f3f3"/>
<rect x="767.42" y="329.50" width="3.50" height="14.50" fill="#f2b02a"/>
<rect x="766.67" y="328.80" width="5.00" height="2.00" fill="#f2b02a"/>
<rect x="782.76" y="329.50" width="3.20" height="14.50" fill="#f3f3f3"/>
<rect x="778.01" y="329.50" width="3.50" height="14.50" fill="#f2b02a"/>
<rect x="777.26" y="328.80" width="5.00" height="2.00" fill="#f2b02a"/>
<rect x="793.35" y="329.50" width="3.20" height="14.50" fill="#f3f3f3"/>
<rect x="788.60" y="329.50" width="3.50" height="14.50" fill="#f2b02a"/>
<rect x="787.85" y="328.80" width="5.00" height="2.00" fill="#f2b02a"/>
<rect x="803.94" y="329.50" width="3.20" height="14.50" fill="#f3f3f3"/>
<rect x="799.19" y="329.50" width="3.50" height="14.50" fill="#f2b02a"/>
<rect x="798.44" y="328.80" width="5.00" height="2.00" fill="#f2b02a"/>
<rect x="814.53" y="329.50" width="3.20" height="14.50" fill="#f3f3f3"/>
<rect x="809.78" y="329.50" width="3.50" height="14.50" fill="#f2b02a"/>
<rect x="809.03" y="328.80" width="5.00" height="2.00" fill="#f2b02a"/>
<rect x="825.13" y="329.50" width="3.20" height="14.50" fill="#f3f3f3"/>
<rect x="820.38" y="329.50" width="3.50" height="14.50" fill="#f2b02a"/>
<rect x="819.63" y="328.80" width="5.00" height="2.00" fill="#f2b02a"/>
<rect x="835.72" y="329.50" width="3.20" height="14.50" fill="#f3f3f3"/>
<rect x="830.97" y="329.50" width="3.50" height="14.50" fill="#f2b02a"/>
<rect x="830.22" y="328.80" width="5.00" height="2.00" fill="#f2b02a"/>
<rect x="846.31" y="329.50" width="3.20" height="14.50" fill="#f3f3f3"/>
<rect x="841.56" y="329.50" width="3.50" height="14.50" fill="#f2b02a"/>
<rect x="840.81" y="328.80" width="5.00" height="2.00" fill="#f2b02a"/>
<rect x="856.90" y="329.50" width="3.20" height="14.50" fill="#f3f3f3"/>
<rect x="852.15" y="329.50" width="3.50" height="14.50" fill="#f2b02a"/>
<rect x="851.40" y="328.80" width="5.00" height="2.00" fill="#f2b02a"/>
<rect x="540.80" y="346.00" width="386.80" height="38.50" fill="#1aa94b"/>
<rect x="630.30" y="351.00" width="122.40" height="4.10" fill="#f2b22a"/>
<rect x="546.70" y="374.90" width="122.60" height="4.60" fill="#f2b22a"/>
<rect x="789.80" y="375.20" width="123.70" height="5.00" fill="#f2b22a"/>
<rect x="597.20" y="347.00" width="2.60" height="28.00" fill="#f2b22a"/>
<rect x="701.40" y="346.00" width="2.60" height="38.00" fill="#f2b22a"/>
<rect x="841.60" y="346.00" width="2.60" height="29.50" fill="#f2b22a"/>
<rect x="593.80" y="346.00" width="9.80" height="5.00" fill="#f2b22a"/>
<rect x="698.00" y="346.00" width="9.50" height="5.50" fill="#f2b22a"/>
<rect x="838.00" y="346.00" width="10.00" height="5.50" fill="#f2b22a"/>
<rect x="556.60" y="379.50" width="8.70" height="5.50" fill="#f2b22a"/>
<rect x="700.00" y="381.50" width="6.80" height="3.00" fill="#f2b22a"/>
<rect x="798.80" y="380.00" width="10.40" height="5.00" fill="#f2b22a"/>
<ellipse cx="542.4" cy="315.8" rx="22.5" ry="10.4" fill="#1b9bd6"/>
<text x="542.4" y="320.4" font-size="13" fill="#fff" text-anchor="middle" font-weight="bold">11</text>
<text x="524.8" y="336.4" font-size="10.3" fill="#333333" text-anchor="start" font-weight="normal" textLength="30.7" lengthAdjust="spacingAndGlyphs" stroke="#333333" stroke-width="0.22">Lid-gap</text>
<text x="688.7" y="264.2" font-size="10.3" fill="#333333" text-anchor="start" font-weight="normal" textLength="92.7" lengthAdjust="spacingAndGlyphs" stroke="#333333" stroke-width="0.22">Die Height Metrology</text>
<circle cx="736.6" cy="278.6" r="10.8" fill="#1b9bd6"/>
<text x="736.6" y="283.2" font-size="13" fill="#fff" text-anchor="middle" font-weight="bold">8</text>
<rect x="936.1" y="285.2" width="4.6" height="91.40000000000003" fill="#58595b"/>
<polygon points="938.4,271.7 931.1999999999999,286.2 945.6,286.2" fill="#58595b"/>
<polygon points="938.4,390.1 931.1999999999999,375.6 945.6,375.6" fill="#58595b"/>
<circle cx="955.6" cy="330.9" r="10.8" fill="#1b9bd6"/>
<text x="955.6" y="335.5" font-size="13" fill="#fff" text-anchor="middle" font-weight="bold">9</text>
<text x="956.4" y="357.3" font-size="10.3" fill="#333333" text-anchor="start" font-weight="normal" textLength="58.1" lengthAdjust="spacingAndGlyphs" stroke="#333333" stroke-width="0.22">Total Package</text>
<text x="956.4" y="369.8" font-size="10.3" fill="#333333" text-anchor="start" font-weight="normal" textLength="27.2" lengthAdjust="spacingAndGlyphs" stroke="#333333" stroke-width="0.22">Height</text>
<rect x="596.2" y="410.5" width="354.29999999999995" height="4.6" fill="#58595b"/>
<polygon points="582.7,412.8 597.2,405.8 597.2,419.8" fill="#58595b"/>
<polygon points="964,412.8 949.5,405.8 949.5,419.8" fill="#58595b"/>
<ellipse cx="653.8" cy="429.5" rx="24.4" ry="10.9" fill="#1b9bd6"/>
<text x="653.8" y="434.1" font-size="13" fill="#fff" text-anchor="middle" font-weight="bold">10</text>
<text x="720.8" y="430.8" font-size="10.3" fill="#333333" text-anchor="start" font-weight="normal" textLength="86.4" lengthAdjust="spacingAndGlyphs" stroke="#333333" stroke-width="0.22">Warpage Metrology</text>
<text x="694.4" y="445.1" font-size="10.3" fill="#333333" text-anchor="start" font-weight="normal" textLength="147.4" lengthAdjust="spacingAndGlyphs" stroke="#333333" stroke-width="0.22">Large packages (&gt; 55mm x 55mm)</text>
<text x="46.4" y="485.5" font-size="10.5" fill="#5aa5c4" text-anchor="start" font-weight="normal" textLength="5.1" lengthAdjust="spacingAndGlyphs">4</text>
<text x="60.8" y="485.5" font-size="10" fill="#5aa5c4" text-anchor="start" font-weight="normal" textLength="159.9" lengthAdjust="spacingAndGlyphs" stroke="#5aa5c4" stroke-width="0.15">KLA Confidential | Need-to-Know Only</text>
<g fill="none" stroke="#4d4b6b" stroke-width="1.4" stroke-linecap="round" stroke-linejoin="round">
<path d="M916.4,474 V488.3 M930.4,474 L917.8,486.6 M923.2,481 L930.8,488.3"/>
<path d="M935.3,474 V488.2 H946.7"/>
<path d="M950.3,488.3 L958,474 L965.4,488.3"/>
</g>
<rect x="970.00" y="473.80" width="15.00" height="14.90" fill="#2a9fd6"/>
<rect x="976.60" y="475.00" width="1.30" height="12.50" fill="#d8f2fc"/>
<rect x="971.20" y="480.80" width="12.60" height="1.30" fill="#d8f2fc"/>
</svg></body></html>
